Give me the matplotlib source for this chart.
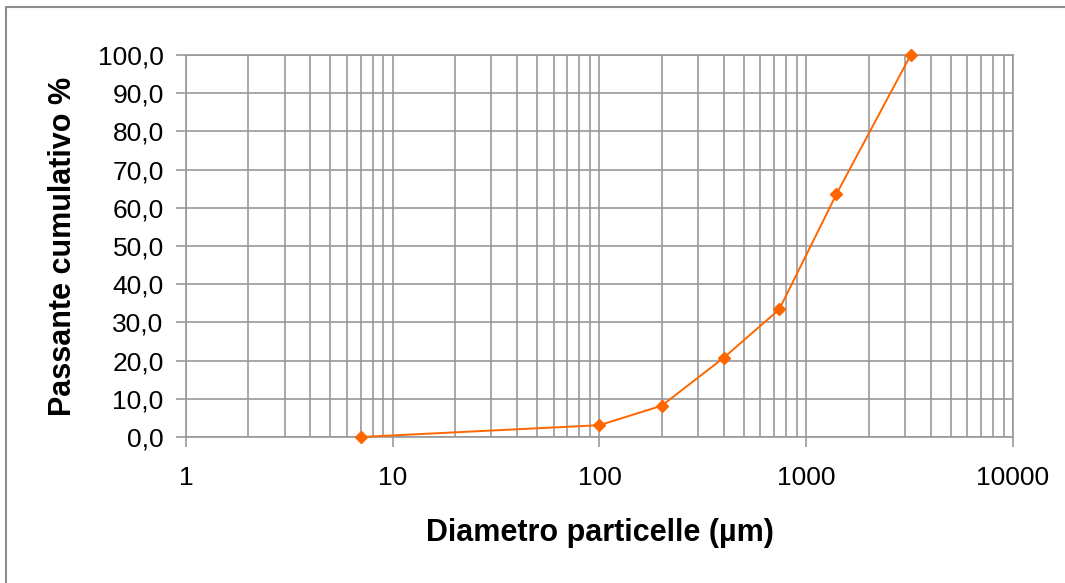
import matplotlib
matplotlib.use("Agg")
import matplotlib.pyplot as plt
from matplotlib.patches import Rectangle
from matplotlib.ticker import FixedLocator, FuncFormatter, NullFormatter

# Granulometric curve: particle diameter (µm) vs cumulative passing (%)
diameters = [7, 100, 200, 400, 740, 1400, 3200]
passing = [0.0, 3.1, 8.2, 20.8, 33.4, 63.6, 100.0]

x_major = [1, 10, 100, 1000, 10000]
x_minor = [m * 10 ** e for e in range(4) for m in range(2, 10)]
y_ticks = list(range(0, 101, 10))

GRID = "#999999"
ORANGE = "#ff6600"

plt.rcParams["font.family"] = ["Liberation Sans", "DejaVu Sans"]

fig = plt.figure(figsize=(10.65, 5.83), dpi=100)
ax = fig.add_axes([0.1746, 0.2504, 0.7766, 0.6553])

ax.plot(diameters, passing, color=ORANGE, lw=1.4, marker="D", ms=6.5,
        mec=ORANGE, mfc=ORANGE, zorder=3, clip_on=False)

ax.set_xscale("log")
ax.set_xlim(1, 10000)
ax.set_ylim(0, 100)

ax.xaxis.set_major_locator(FixedLocator(x_major))
ax.xaxis.set_minor_locator(FixedLocator(x_minor))
ax.xaxis.set_major_formatter(FuncFormatter(lambda v, p: f"{v:.0f}"))
ax.xaxis.set_minor_formatter(NullFormatter())
ax.yaxis.set_major_locator(FixedLocator(y_ticks))
ax.yaxis.set_major_formatter(FuncFormatter(lambda v, p: f"{v:.1f}".replace(".", ",")))

ax.grid(True, which="both", axis="x", color=GRID, lw=1.2)
ax.grid(True, which="major", axis="y", color=GRID, lw=1.2)
ax.set_axisbelow(True)

for s in ax.spines.values():
    s.set_color(GRID)
    s.set_linewidth(1.2)

ax.tick_params(axis="x", which="major", length=7, width=1.2, color=GRID,
               labelsize=19, pad=14)
ax.tick_params(axis="x", which="minor", length=0)
ax.tick_params(axis="y", which="major", length=7, width=1.2, color=GRID,
               labelsize=19, pad=9)

ax.set_xlabel("Diametro particelle (µm)", fontsize=22, fontweight="bold", labelpad=20)
ax.set_ylabel("Passante cumulativo %", fontsize=22, fontweight="bold", labelpad=14)

# chart area frame
fig.patches.append(Rectangle((6 / 1065, -0.05), 1.2, 1 - 7 / 583 + 0.05,
                             transform=fig.transFigure, fill=False,
                             edgecolor="#8c8c8c", lw=1.5))

fig.savefig("out.png", dpi=100)
